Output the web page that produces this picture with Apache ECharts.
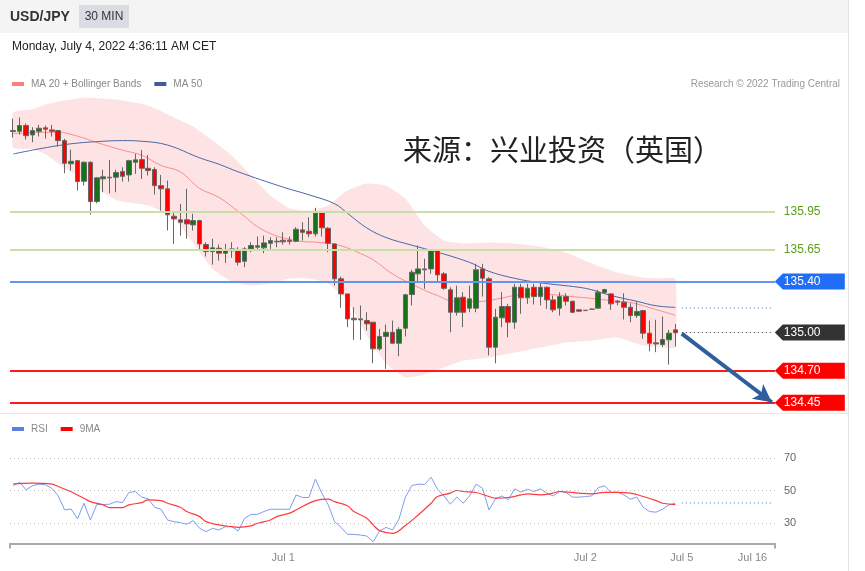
<!DOCTYPE html>
<html>
<head>
<meta charset="utf-8">
<title>USD/JPY 30 MIN</title>
<script src="https://cdn.jsdelivr.net/npm/echarts@6/dist/echarts.min.js"></script>
<style>
html, body { margin: 0; padding: 0; background: #fff; }
#chart { width: 865px; height: 571px; }
</style>
</head>
<body>
<div id="chart"></div>
<script>
// candles (30 min bars)
var opens = [136.584,136.578,136.623,136.550,136.578,136.605,136.589,136.584,136.505,136.323,
  136.348,136.186,136.335,136.027,136.205,136.213,136.218,136.262,136.236,136.335,
  136.356,136.288,136.278,136.152,136.127,135.912,135.884,135.884,135.844,135.878,
  135.690,135.635,135.661,135.622,135.656,135.648,135.559,135.656,135.669,135.664,
  135.700,135.711,135.724,135.724,135.716,135.805,135.794,135.774,135.946,135.818,
  135.695,135.421,135.303,135.112,135.107,135.094,135.081,134.872,134.969,135.002,
  134.916,135.034,135.298,135.460,135.499,135.499,135.643,135.460,135.335,135.159,
  135.277,135.191,135.191,135.499,135.421,134.885,135.115,135.204,135.081,135.355,
  135.272,135.355,135.282,135.355,135.256,135.191,135.282,135.245,135.178,135.175,
  135.184,135.191,135.311,135.303,135.245,135.238,135.198,135.133,135.172,134.995,
  134.919,134.906,134.943,135.021];
var closes = [136.576,136.623,136.544,136.584,136.602,136.594,136.578,136.505,136.327,136.343,
  136.184,136.335,136.027,136.213,136.221,136.218,136.254,136.225,136.348,136.354,
  136.288,136.270,136.152,136.127,135.923,135.891,135.865,135.852,135.878,135.695,
  135.635,135.664,135.622,135.651,135.641,135.551,135.656,135.682,135.680,135.703,
  135.721,135.716,135.711,135.713,135.810,135.786,135.774,135.938,135.821,135.700,
  135.421,135.303,135.107,135.100,135.100,135.068,134.872,134.969,135.002,134.916,
  135.024,135.296,135.473,135.499,135.492,135.643,135.452,135.347,135.159,135.272,
  135.159,135.264,135.492,135.426,134.885,135.120,135.204,135.081,135.355,135.272,
  135.347,135.282,135.355,135.256,135.178,135.282,135.245,135.159,135.167,135.172,
  135.183,135.316,135.337,135.225,135.238,135.198,135.133,135.165,134.995,134.916,
  134.911,134.945,134.995,134.998];
var lows = [136.529,136.552,136.513,136.492,136.537,136.521,136.537,136.458,136.249,136.270,
  136.113,136.152,135.925,136.014,136.100,136.092,136.100,136.184,136.184,136.244,
  136.205,136.231,136.082,135.956,135.800,135.695,135.760,135.735,135.800,135.643,
  135.596,135.533,135.564,135.546,135.586,135.525,135.512,135.630,135.643,135.622,
  135.656,135.669,135.690,135.690,135.708,135.721,135.747,135.753,135.753,135.630,
  135.368,135.194,135.042,134.943,134.943,135.016,134.759,134.859,134.715,134.911,
  134.814,134.969,135.212,135.394,135.343,135.460,135.394,135.335,135.002,135.133,
  135.042,135.159,135.159,135.282,134.820,134.759,135.042,134.963,135.029,135.147,
  135.225,135.220,135.212,135.186,135.159,135.133,135.212,135.151,135.165,135.170,
  135.182,135.186,135.303,135.178,135.212,135.102,135.081,135.115,134.951,134.853,
  134.846,134.885,134.749,134.890];
var highs = [136.678,136.686,136.639,136.610,136.628,136.623,136.628,136.589,136.519,136.435,
  136.354,136.343,136.343,136.218,136.276,136.354,136.276,136.296,136.354,136.401,
  136.432,136.393,136.296,136.236,136.192,135.949,136.009,136.127,135.931,135.884,
  135.708,135.735,135.690,135.695,135.708,135.669,135.669,135.708,135.753,135.760,
  135.747,135.747,135.786,135.753,135.826,135.865,135.904,135.978,135.951,135.826,
  135.700,135.439,135.303,135.198,135.212,135.159,135.081,135.029,135.063,135.094,
  135.042,135.303,135.492,135.682,135.578,135.648,135.648,135.473,135.355,135.368,
  135.316,135.368,135.539,135.539,135.434,135.186,135.316,135.225,135.382,135.382,
  135.382,135.382,135.394,135.361,135.290,135.316,135.308,135.251,135.180,135.177,
  135.185,135.335,135.343,135.308,135.256,135.308,135.230,135.243,135.178,135.094,
  135.100,135.125,135.021,135.068];

// moving averages and bands as [bar index, price]
var ma20 = [[0,136.56],[4,136.57],[7,136.57],[10,136.54],[13,136.49],[17,136.43],[20,136.39],
  [23,136.31],[26,136.26],[29,136.13],[32,136.06],[35,135.95],[39,135.80],[44,135.72],
  [48,135.705],[51,135.68],[54,135.62],[56,135.57],[59,135.46],[63,135.355],[66,135.29],
  [69,135.24],[73,135.245],[76,135.27],[78,135.29],[82,135.30],[88,135.277],[93,135.251],
  [96,135.236],[99,135.195],[103,135.135]];
var ma50 = [[0,136.40],[4,136.44],[9,136.48],[14,136.50],[17,136.505],[20,136.50],[24,136.47],
  [29,136.37],[32,136.32],[35,136.26],[42,136.14],[46,136.08],[50,136.01],[52,135.935],
  [55,135.82],[58,135.745],[62,135.685],[66,135.63],[71,135.55],[74,135.48],[78,135.425],
  [82,135.39],[88,135.355],[90,135.335],[93,135.29],[97,135.245],[100,135.21],[103,135.197]];
var bandIdx = [0,3,5,8,11,16,21,25,28,31,34,37,40,43,46,49,52,55,58,61,64,67,70,74,78,82,86,90,94,98,101,103];
var bandUpper = [136.725,136.750,136.788,136.820,136.842,136.827,136.780,136.686,136.615,136.505,136.388,136.231,
  136.074,135.972,135.956,135.996,136.113,136.168,136.152,136.051,135.839,135.721,135.698,
  135.706,135.698,135.674,135.627,135.541,135.470,135.431,135.425,135.423];
var bandLower = [136.450,136.440,136.400,136.290,136.200,136.040,135.996,135.900,135.700,135.500,135.400,135.368,
  135.384,135.423,135.423,135.384,135.251,134.976,134.757,134.647,134.671,134.726,134.780,
  134.804,134.843,134.882,134.922,134.937,134.960,134.898,134.885,134.882];

// RSI panel
var rsi = [52.9,55.1,50.4,52.9,53.9,53.5,51.4,46.7,38.1,38.7,32.6,42.2,31.9,41.4,41.4,41.6,43.2,42.6,
  48.8,49.4,45.9,44.9,39.7,38.5,31.9,30.9,30.3,29.3,31.5,26.8,24.8,26.8,25.8,27.8,27.8,25.2,
  33.0,35.4,35.4,37.1,38.5,38.5,38.5,38.5,47.3,45.7,45.7,57.0,48.4,41.2,30.9,27.4,23.1,23.1,
  22.7,22.1,18.6,25.2,27.4,25.8,32.4,45.9,53.1,53.9,53.7,58.2,50.8,46.7,41.6,45.9,42.2,46.7,
  53.9,51.4,38.1,44.7,46.7,44.3,51.0,49.0,50.8,49.4,51.0,48.4,46.7,49.4,48.8,45.9,45.9,46.3,
  46.7,51.8,52.9,48.8,49.0,47.3,44.7,45.9,39.7,37.1,36.7,38.5,41.2,42.2];
var rsiMa = [[0,54.1],[3,54.5],[6,53.9],[7,52.5],[9,49.2],[10,47.2],[11,45.3],[12,43.2],[14,41.2],
  [15,39.5],[17,39.5],[18,41.2],[20,42.6],[21,44.3],[23,43.8],[24,42.2],[26,39.7],[27,37.1],
  [29,34.0],[30,30.9],[32,28.9],[34,27.8],[35,27.4],[37,28.3],[38,29.9],[40,31.9],[41,34.0],
  [43,36.1],[44,38.1],[45,40.2],[47,43.8],[49,44.7],[50,43.2],[52,40.6],[53,37.1],[55,33.0],
  [56,28.9],[57,25.4],[59,23.7],[61,28.5],[63,35.0],[65,42.2],[66,46.3],[68,48.4],[69,50.0],
  [70,49.4],[72,48.8],[74,46.3],[75,45.3],[77,45.7],[79,47.3],[80,47.9],[82,47.3],[84,48.4],
  [85,49.4],[87,48.8],[88,48.4],[90,47.9],[92,48.8],[94,48.8],[96,48.4],[98,46.3],[100,43.8],
  [101,42.2],[103,41.4]];
var rsiLevels = [30, 50, 70];

var tickIdx = [42, 89, 104, 115];
var tickText = ['Jul 1', 'Jul 2', 'Jul 5', 'Jul 16'];
var levelGreen = [135.95, 135.65];
var levelBlue = 135.40;
var levelRed = [134.70, 134.45];
var lastPrice = 135.00;
var nCats = 119;

var cats = [];
for (var i = 0; i < nCats; i++) cats.push(String(i));
var candles = opens.map(function (o, i) { return [o, closes[i], lows[i], highs[i]]; });
var lastIdx = opens.length - 1;
var ma50Last = ma50[ma50.length - 1][1];
var rsiLast = rsi[rsi.length - 1];

var tagPath = 'path://M0,8L8,0L70,0L70,16L8,16Z';
function tag(v, bg, fg) {
  return {
    coord: [nCats - 1, v], value: v.toFixed(2),
    symbol: tagPath, symbolSize: [70, 16], symbolOffset: [38, 0],
    itemStyle: { color: bg },
    label: { color: fg }
  };
}

var myChart = echarts.init(document.getElementById('chart'));
var option = {
  animation: false,
  textStyle: { fontFamily: 'Liberation Sans, Arial, sans-serif' },
  legend: [{
    left: 12, top: 79, padding: 0, itemWidth: 12, itemHeight: 4, itemGap: 13,
    icon: 'rect', selectedMode: false,
    textStyle: { color: '#888', fontSize: 10, padding: [0, 0, 0, 2] },
    data: [{ name: 'MA 20 + Bollinger Bands', itemStyle: { color: '#f77f7f' } },
           { name: 'MA 50', itemStyle: { color: '#3b5da0' } }]
  }, {
    left: 12, top: 424, padding: 0, itemWidth: 12, itemHeight: 4, itemGap: 13,
    icon: 'rect', selectedMode: false,
    textStyle: { color: '#888', fontSize: 10, padding: [0, 0, 0, 2] },
    data: [{ name: 'RSI', itemStyle: { color: '#5b7fe0' } },
           { name: '9MA', itemStyle: { color: '#ff0000' } }]
  }],
  grid: [
    { left: 10, right: 90, top: 90.5, height: 323 },
    { left: 10, right: 90, top: 409, height: 134.5 }
  ],
  xAxis: [
    { type: 'category', gridIndex: 0, data: cats, show: false, boundaryGap: true },
    {
      type: 'category', gridIndex: 1, data: cats, boundaryGap: true, position: 'bottom',
      axisLine: { show: false }, axisTick: { show: false },
      axisLabel: {
        color: '#888', fontSize: 11, margin: 9,
        interval: function (i) { return tickIdx.indexOf(i) >= 0; },
        formatter: function (v, i) { var k = tickIdx.indexOf(i); return k >= 0 ? tickText[k] : ''; }
      }
    },
    {
      // plain frame axis: line with a tick at each end
      type: 'value', gridIndex: 1, min: 0, max: 1, interval: 1, position: 'bottom', offset: 0,
      axisLine: { show: true, lineStyle: { color: '#aaa', width: 2 } },
      axisTick: { show: true, length: 5, lineStyle: { color: '#aaa', width: 2 } },
      axisLabel: { show: false }, splitLine: { show: false }
    }
  ],
  yAxis: [
    { type: 'value', gridIndex: 0, min: 134.365, max: 136.898, show: false, scale: true },
    { type: 'value', gridIndex: 1, min: 17.5, max: 100, show: false }
  ],
  graphic: [
    { type: 'rect', shape: { x: 0, y: 0, width: 848, height: 33 }, style: { fill: '#f4f4f4' }, z: -1 },
    { type: 'rect', shape: { x: 848, y: 0, width: 1, height: 571 }, style: { fill: '#e4e4e4' } },
    { type: 'rect', shape: { x: 0, y: 413, width: 848, height: 1 }, style: { fill: '#e8e8e8' } },
    { type: 'text', x: 10, y: 17, style: { text: 'USD/JPY', fill: '#333', font: 'bold 14px Liberation Sans, Arial, sans-serif', verticalAlign: 'middle' } },
    { type: 'rect', shape: { x: 79, y: 5, width: 50, height: 23 }, style: { fill: '#d9dce3' } },
    { type: 'text', x: 104, y: 17, style: { text: '30 MIN', fill: '#333', font: '12px Liberation Sans, Arial, sans-serif', align: 'center', verticalAlign: 'middle' } },
    { type: 'text', x: 12, y: 47, style: { text: 'Monday, July 4, 2022 4:36:11 AM CET', fill: '#222', font: '12px Liberation Sans, Arial, sans-serif', verticalAlign: 'middle' } },
    { type: 'text', x: 840, y: 84, style: { text: 'Research \u00a9 2022 Trading Central', fill: '#999', font: '10px Liberation Sans, Arial, sans-serif', align: 'right', verticalAlign: 'middle' } },
    { type: 'text', x: 403, y: 150, z: 10, style: { text: '来源：兴业投资（英国）', fill: '#222', font: '29px "Noto Sans CJK SC", sans-serif', verticalAlign: 'middle' } }
  ],
  series: [
    {
      type: 'custom', name: 'band', xAxisIndex: 0, yAxisIndex: 0, silent: true, z: 1,
      data: [[0, 135]],
      renderItem: function (params, api) {
        var pts = [];
        for (var k = 0; k < bandIdx.length; k++) pts.push(api.coord([bandIdx[k], bandUpper[k]]));
        for (var k = bandIdx.length - 1; k >= 0; k--) pts.push(api.coord([bandIdx[k], bandLower[k]]));
        return { type: 'polygon', shape: { points: pts, smooth: 0.15 }, style: { fill: '#fde3e3' } };
      }
    },
    {
      type: 'line', name: 'MA 20 + Bollinger Bands', xAxisIndex: 0, yAxisIndex: 0, z: 2,
      data: ma20, smooth: 0.4, showSymbol: false, color: '#f77f7f',
      lineStyle: { color: '#ff8c8c', width: 1 }
    },
    {
      type: 'line', name: 'MA 50', xAxisIndex: 0, yAxisIndex: 0, z: 2,
      data: ma50, smooth: 0.4, showSymbol: false, color: '#3b5da0',
      lineStyle: { color: '#4a66aa', width: 1 },
      markLine: {
        silent: true, symbol: 'none', label: { show: false },
        lineStyle: { color: '#7d9ce0', type: [1, 3], width: 1.5 },
        data: [[{ coord: [lastIdx + 1, ma50Last] }, { coord: [nCats - 1, ma50Last] }]]
      }
    },
    {
      type: 'candlestick', name: 'USD/JPY', xAxisIndex: 0, yAxisIndex: 0, z: 3,
      data: candles, barWidth: 5,
      itemStyle: { color: '#177317', color0: '#ff0000', borderColor: '#666', borderColor0: '#666', borderColorDoji: '#666', borderWidth: 1 },
      markLine: {
        silent: true, symbol: 'none', label: { show: false },
        data: [
          { yAxis: levelGreen[0], lineStyle: { color: '#c6e0a8', width: 2, type: 'solid' } },
          { yAxis: levelGreen[1], lineStyle: { color: '#c6e0a8', width: 2, type: 'solid' } },
          { yAxis: levelBlue, lineStyle: { color: '#6495f2', width: 2, type: 'solid' } },
          { yAxis: levelRed[0], lineStyle: { color: '#ff1a1a', width: 2, type: 'solid' } },
          { yAxis: levelRed[1], lineStyle: { color: '#ff1a1a', width: 2, type: 'solid' } },
          [{ coord: [lastIdx + 1, lastPrice], lineStyle: { color: '#333', width: 1, type: [1, 3] } },
           { coord: [nCats - 1, lastPrice] }],
          [{ coord: [lastIdx + 1, lastPrice - 0.008], symbol: 'none', lineStyle: { color: '#2f5e9c', width: 4, type: 'solid' } },
           { coord: [117.5, levelRed[1] + 0.003], symbol: 'arrow', symbolSize: [14, 18] }]
        ]
      },
      markPoint: {
        silent: true,
        label: { show: true, position: 'insideLeft', distance: 9, fontSize: 12, formatter: function (p) { return p.value; } },
        data: [
          tag(levelGreen[0], 'rgba(0,0,0,0)', '#5a9e1e'),
          tag(levelGreen[1], 'rgba(0,0,0,0)', '#5a9e1e'),
          tag(levelBlue, '#1f6ef5', '#fff'),
          tag(lastPrice, '#333333', '#fff'),
          tag(levelRed[0], '#ff0000', '#fff'),
          tag(levelRed[1], '#ff0000', '#fff')
        ]
      }
    },
    {
      type: 'line', name: 'RSI', xAxisIndex: 1, yAxisIndex: 1, z: 2,
      data: rsi, showSymbol: false, color: '#5b7fe0',
      lineStyle: { color: '#7d9cf0', width: 1 },
      markLine: {
        silent: true, symbol: 'none',
        data: rsiLevels.map(function (v) {
          return { yAxis: v, lineStyle: { color: '#bbb', type: [1, 3], width: 1 },
            label: { show: true, position: 'end', distance: 9, color: '#666', fontSize: 11, formatter: String(v) } };
        }).concat([[
          { coord: [lastIdx + 1, rsiLast], label: { show: false }, lineStyle: { color: '#7d9cf0', type: [1, 3], width: 1.5 } },
          { coord: [nCats - 1, rsiLast] }
        ]])
      }
    },
    {
      type: 'line', name: '9MA', xAxisIndex: 1, yAxisIndex: 1, z: 3,
      data: rsiMa, smooth: 0.4, showSymbol: false, color: '#ff0000',
      lineStyle: { color: '#ff3b3b', width: 1.2 }
    }
  ]
};
myChart.setOption(option);
</script>
</body>
</html>
